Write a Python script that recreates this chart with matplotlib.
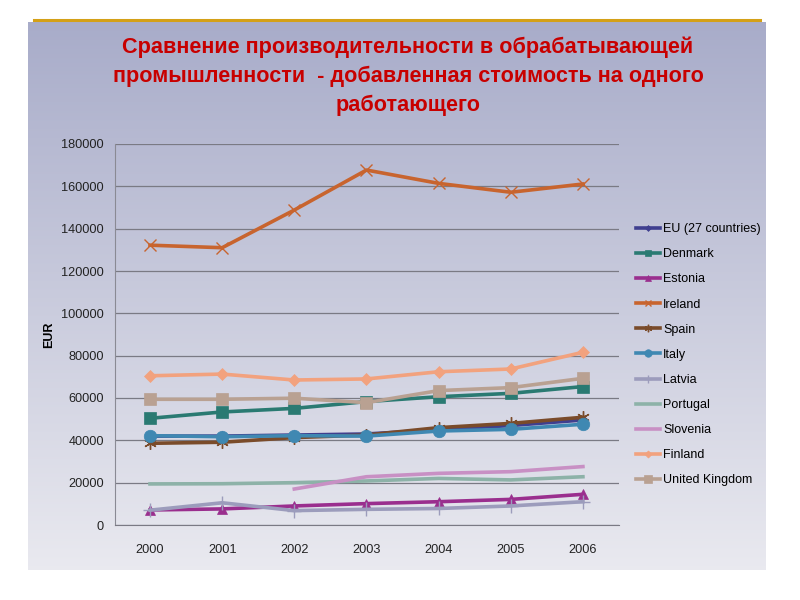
import matplotlib
matplotlib.use("Agg")
import matplotlib.pyplot as plt
from matplotlib import font_manager
from matplotlib.lines import Line2D
import numpy as np

years = ["2000", "2001", "2002", "2003", "2004", "2005", "2006"]

eu = [42000, 42000, 42500, 43000, 45000, 47000, 49600]
denmark = [50400, 53400, 55100, 58300, 60600, 62200, 65400]
estonia = [7100, 7600, 9000, 10100, 11000, 12100, 14500]
ireland = [132200, 131000, 148800, 167700, 161400, 157200, 161100]
spain = [38600, 39100, 41300, 42500, 46000, 48000, 50900]
italy = [42200, 41700, 42200, 42000, 44400, 45200, 47600]
latvia = [7000, 10500, 6800, 7400, 7800, 9000, 11000]
portugal = [19400, 19500, 20000, 20800, 22000, 21300, 22800]
slovenia = [np.nan, np.nan, 17000, 22800, 24400, 25200, 27600]
finland = [70500, 71300, 68500, 69000, 72400, 73700, 81600]
uk = [59400, 59400, 59900, 57800, 63500, 64900, 69300]

series_names = ["EU (27 countries)", "Denmark", "Estonia", "Ireland", "Spain", "Italy",
                "Latvia", "Portugal", "Slovenia", "Finland", "United Kingdom"]
series_values = [eu, denmark, estonia, ireland, spain, italy, latvia, portugal,
                 slovenia, finland, uk]
colors = ["#3f3f8f", "#2a7a72", "#9a2e8e", "#c8642e", "#7a4b2a", "#3f88b2",
          "#9c9cbc", "#8db2a8", "#c890c4", "#f2a27e", "#b9a192"]
markers = ["D", "s", "^", "x", (6, 2, 0), "o", "+", None, None, "D", "s"]
msizes = [5, 8, 7, 8, 9, 9, 10, 0, 0, 6, 9]

title = ("Сравнение производительности в обрабатывающей\n"
         "промышленности  - добавленная стоимость на одного\n"
         "работающего")

names = {f.name for f in font_manager.fontManager.ttflist}
base = "Liberation Sans" if "Liberation Sans" in names else "DejaVu Sans"
narrow = "Liberation Sans Narrow" if "Liberation Sans Narrow" in names else base
plt.rcParams['font.family'] = [base, "DejaVu Sans"]

fig = plt.figure(figsize=(8, 6), dpi=100)
fig.patch.set_facecolor("white")

# gradient panel
W, H = 800, 600
px0, px1, py0, py1 = 28, 766, 22, 570
bg = fig.add_axes([px0 / W, 1 - py1 / H, (px1 - px0) / W, (py1 - py0) / H], zorder=0)
top = np.array([0.66, 0.675, 0.79])
bot = np.array([0.915, 0.915, 0.94])
t = np.linspace(0, 1, 256)[:, None]
grad = top[None, :] * (1 - t) + bot[None, :] * t
bg.imshow(grad[:, None, :], aspect="auto", extent=[0, 1, 0, 1])
bg.set_axis_off()

fig.add_artist(Line2D([34 / W, 760 / W], [1 - 20 / H, 1 - 20 / H],
                      color="#d4a017", lw=2.2, transform=fig.transFigure, zorder=5))

fig.text(0.51, 1 - 36 / H, title, ha="center", va="top", color="#c80000",
         fontsize=15.6, family=[narrow, "DejaVu Sans"], fontweight="bold",
         linespacing=1.5, zorder=6)

ax = fig.add_axes([115 / W, 1 - 525 / H, (619 - 115) / W, (525 - 144) / H], zorder=2)
ax.patch.set_alpha(0)
x = np.arange(len(years))
for name, vals, c, m, ms in zip(series_names, series_values, colors, markers, msizes):
    ax.plot(x, vals, color=c, lw=2.6, marker=m, markersize=ms, label=name,
            markeredgecolor=c, markeredgewidth=1.0 if m in ("x", "+", (6, 2, 0)) else 0.5)

ax.set_xlim(-0.485, 6.5)
ax.set_ylim(0, 180000)
ax.set_yticks(range(0, 180001, 20000))
ax.set_xticks(x)
ax.set_xticklabels(years)
ax.tick_params(axis="both", length=0, labelsize=9.2, colors="#222222")
ax.tick_params(axis="x", pad=14)
ax.tick_params(axis="y", pad=8)
ax.grid(axis="y", color="#7a7a84", lw=0.9)
ax.set_axisbelow(True)
for s in ["top", "right"]:
    ax.spines[s].set_visible(False)
ax.spines["left"].set_color("#8a8a94")
ax.spines["bottom"].set_color("#7a7a84")
ax.set_ylabel("EUR", fontsize=9, fontweight="bold", labelpad=4)

fig.legend(loc="upper left", bbox_to_anchor=(625 / W, 1 - 212 / H), frameon=False,
           fontsize=9, handlelength=1.9, handletextpad=0.25, labelspacing=1.05,
           markerscale=0.6)

fig.savefig("out.png", dpi=100)
